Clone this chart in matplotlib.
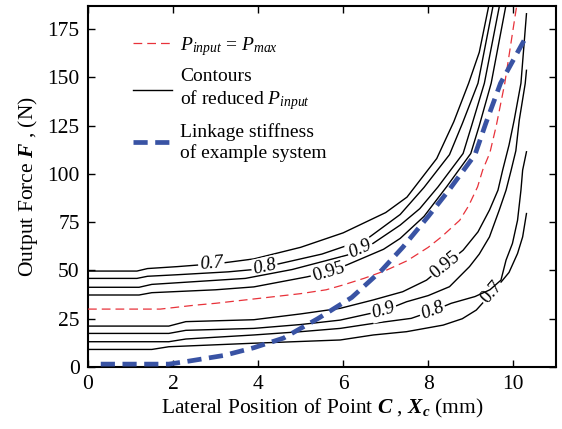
import matplotlib
matplotlib.use('Agg')
import matplotlib.pyplot as plt
import numpy as np

plt.rcParams['font.family'] = ['Liberation Serif', 'DejaVu Serif']
plt.rcParams['mathtext.fontset'] = 'custom'
plt.rcParams['mathtext.rm'] = 'Liberation Serif'
plt.rcParams['mathtext.it'] = 'Liberation Serif:italic'
plt.rcParams['mathtext.bf'] = 'Liberation Serif:italic:bold'

# contours above the P_max line
u07_x = [0, 1.15, 1.4, 2.1, 3.1, 3.9, 5.0, 6.0, 7.0, 7.5, 8.2, 8.6, 8.95, 9.2, 9.45]
u07_f = [49.7, 49.7, 51.0, 52.0, 53.7, 56.0, 62.0, 69.5, 80.0, 88.0, 108, 127, 147, 163, 190]
u08_x = [0, 1.15, 1.4, 2.1, 3.3, 3.9, 4.7, 5.5, 6.1, 6.6, 7.34, 7.9, 8.5, 8.8, 9.17, 9.55]
u08_f = [45.9, 45.9, 47.0, 47.8, 49.3, 50.5, 54.5, 58.5, 63, 67, 79, 93, 110, 126, 147, 190]
u09_x = [0, 1.2, 1.5, 2.0, 3.7, 4.8, 6.1, 6.7, 7.34, 7.8, 8.23, 8.82, 9.02, 9.32, 9.7]
u09_f = [41.3, 41.3, 42.8, 43.5, 45.9, 50.5, 58, 64, 73.5, 82, 93.3, 110.6, 125, 147, 190]
u095_x = [0, 1.2, 1.5, 2.0, 3.0, 3.9, 4.5, 5.15, 5.7, 6.1, 6.95, 7.34, 7.9, 8.43, 9.0, 9.2, 9.48, 9.85]
u095_f = [37.3, 37.3, 38.5, 39.0, 40.0, 41.5, 44.0, 46.7, 49.5, 53, 61, 66.6, 78, 93.3, 110.6, 125, 147, 190]

# contours below the P_max line
l095_x = [0, 1.9, 2.3, 3.9, 5.0, 5.93, 6.7, 7.4, 7.96, 8.82, 9.17, 9.44, 9.64, 9.75, 9.9, 10.02, 10.18, 10.31]
l095_f = [21.2, 21.2, 23.5, 24.5, 27.5, 30.4, 34.7, 39, 45, 60.5, 70, 81.3, 91.6, 102, 115, 127.8, 147, 183]
l09_x = [0, 1.9, 2.3, 3.9, 5.0, 5.93, 7.0, 7.49, 8.0, 8.5, 8.97, 9.2, 9.44, 9.67, 9.83, 9.95, 10.06, 10.14, 10.28, 10.31]
l09_f = [17.4, 17.4, 19, 20, 22, 24.3, 29.5, 33.8, 37, 41.6, 52, 58.5, 67.4, 81.3, 91.6, 102, 112, 127.8, 146.8, 153.7]
l08_x = [0, 1.9, 2.3, 3.9, 5.0, 5.93, 6.71, 7.6, 8.1, 8.54, 9.1, 9.45, 9.71, 9.83, 9.98, 10.1, 10.18, 10.22, 10.31]
l08_f = [13.1, 13.1, 14.5, 16.6, 18.3, 20, 22.6, 25.2, 29, 33, 36.5, 40, 45, 55.4, 64, 76, 91.6, 102, 111.5]
l07_x = [0, 1.5, 1.9, 3.87, 5.93, 6.71, 7.49, 8.35, 8.8, 9.13, 9.5, 9.75, 9.9, 10.1, 10.22, 10.31]
l07_f = [9.1, 9.1, 10.5, 12.3, 14, 16.6, 18.3, 21.7, 25, 29.5, 38.5, 45, 49, 58.8, 67.4, 79.5]

# P_input = P_max
pmax_x = [0, 1.7, 2.5, 3.0, 4.0, 5.0, 5.6, 6.0, 6.5, 7.0, 7.5, 8.0, 8.31, 8.74, 8.95, 9.16, 9.28, 9.45, 9.6, 9.8, 10.1]
pmax_f = [30, 30, 32, 33, 35.5, 38, 40, 42.5, 46, 50, 55, 62, 67.4, 76, 83.5, 93.3, 102, 111, 125, 147, 190]

# linkage stiffness of the example system
stiff_x = [0.3, 1.9, 2.3, 3.2, 3.9, 4.6, 5.4, 6.2, 6.9, 7.4, 8.0, 8.5, 9.1, 9.35, 9.7, 10.3]
stiff_f = [1.5, 1.5, 2.8, 6.0, 10.0, 15.0, 25.0, 36.0, 50.0, 62.0, 78.0, 92.0, 110.0, 126.0, 147.0, 171.0]

contours = [
    (u07_x, u07_f, '0.7', 2.9, 'italic'),
    (u08_x, u08_f, '0.8', 4.15, 'italic'),
    (u09_x, u09_f, '0.9', 6.4, 'italic'),
    (u095_x, u095_f, '0.95', 5.65, 'normal'),
    (l07_x, l07_f, '0.7', 9.5, 'normal'),
    (l08_x, l08_f, '0.8', 8.1, 'italic'),
    (l09_x, l09_f, '0.9', 6.95, 'italic'),
    (l095_x, l095_f, '0.95', 8.4, 'normal'),
]

fig = plt.figure(figsize=(5.62, 4.29), dpi=100)
ax = fig.add_axes([0.1566, 0.1445, 0.989 - 0.1566, 0.986 - 0.1445])
ax.set_xlim(0, 11)
ax.set_ylim(0, 187)

z = 2.0
for cx, cf, lab, lx, style in contours:
    ax.plot(cx, cf, color='black', lw=1.0, zorder=z)
    ly = np.interp(lx, cx, cf)
    p1 = ax.transData.transform((lx - 0.2, np.interp(lx - 0.2, cx, cf)))
    p2 = ax.transData.transform((lx + 0.2, np.interp(lx + 0.2, cx, cf)))
    ang = np.degrees(np.arctan2(p2[1] - p1[1], p2[0] - p1[0]))
    ax.text(lx, ly, lab, fontsize=13.5, fontstyle=style, rotation=ang,
            rotation_mode='anchor', ha='center', va='center',
            bbox=dict(boxstyle='square,pad=0.08', fc='white', ec='none'),
            zorder=z + 0.05)
    z += 0.1

ax.plot(pmax_x, pmax_f, color='#e8323a', lw=0.9, dashes=(7, 4), zorder=4,
        label='$P_{input}$ = $P_{max}$')
ax.plot([], [], color='black', lw=1.0, label='Contours\nof reduced $P_{input}$')
ax.plot(stiff_x, stiff_f, color='#3953a4', lw=3.4, dashes=(3.0, 1.6), zorder=5,
        label='Linkage stiffness\nof example system')

ax.set_xticks(np.arange(0, 11, 2))
ax.set_yticks(np.arange(0, 176, 25))
ax.tick_params(direction='in', top=True, right=True, length=5, width=1,
               labelsize=15.5, pad=6)
for s in ax.spines.values():
    s.set_linewidth(1.5)

ax.set_xlabel(r'Lateral Position of Point $\mathbf{C}$ , $\mathbf{X_c}$ (mm)', fontsize=15.5, labelpad=2)
ax.set_ylabel(r'Output Force $\mathbf{F}$ , (N)', fontsize=15.5, labelpad=5)

ax.legend(loc='upper left', bbox_to_anchor=(0.08, 0.942), frameon=False,
          fontsize=14, handlelength=2.0, handletextpad=0.4, labelspacing=0.55,
          borderaxespad=0)

plt.savefig('out.png', dpi=100)
